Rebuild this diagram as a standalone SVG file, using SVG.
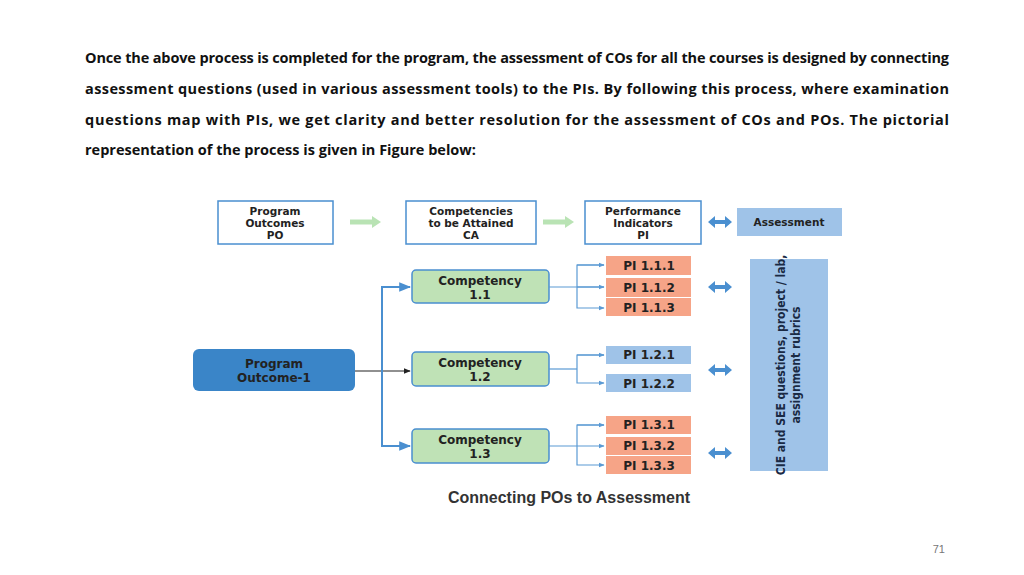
<svg xmlns="http://www.w3.org/2000/svg" width="1024" height="575" viewBox="0 0 1024 575">
<defs>
<marker id="ab" viewBox="0 0 10 10" refX="9" refY="5" markerWidth="6" markerHeight="6" orient="auto"><path d="M0,1L10,5L0,9z" fill="#4a8fd0"/></marker>
<marker id="ak" viewBox="0 0 10 10" refX="9" refY="5" markerWidth="6" markerHeight="6" orient="auto"><path d="M0,1L10,5L0,9z" fill="#222"/></marker>
<marker id="as" viewBox="0 0 10 10" refX="9" refY="5" markerWidth="5" markerHeight="5" orient="auto"><path d="M0,1L10,5L0,9z" fill="#5a9ad4"/></marker>
</defs>
<style>
.p{font-family:"Open Sans","Liberation Sans",sans-serif;font-weight:bold;font-size:14.5px;fill:#111}
.t{font-family:"DejaVu Sans",sans-serif;font-weight:bold;font-size:10.5px;fill:#222;text-anchor:middle}
.c{font-family:"DejaVu Sans",sans-serif;font-weight:bold;font-size:12px;fill:#222;text-anchor:middle}
.wb{fill:#fff;stroke:#4a8fd0;stroke-width:1.5}
.gb{fill:#bfe2b6;stroke:#4a8fd0;stroke-width:1.5}
.or{fill:#f6a487}
.bl{fill:#9fc3e8}
.ln{stroke:#5a9ad4;stroke-width:1.2;fill:none}
.ga{stroke:#b9e3b4;stroke-width:5;fill:none}
.da{fill:#4a8fd0}
</style>
<rect width="1024" height="575" fill="#fff"/>
<g id="para">
<text class="p" x="85" y="63" textLength="864" lengthAdjust="spacing">Once the above process is completed for the program, the assessment of COs for all the courses is designed  by connecting</text>
<text class="p" x="85" y="94" textLength="864" lengthAdjust="spacing">assessment questions (used in various assessment tools) to the PIs. By following this process,  where examination</text>
<text class="p" x="85" y="125" textLength="864" lengthAdjust="spacing">questions map with PIs, we get clarity and better resolution for the assessment of COs  and POs. The pictorial</text>
<text class="p" x="85" y="155">representation of the process is given in Figure below:</text>
</g>
<g id="n-po"><rect class="wb" x="218" y="201" width="115" height="43"/><text class="t" x="275" y="215">Program</text><text class="t" x="275" y="227">Outcomes</text><text class="t" x="275" y="239">PO</text></g>
<g id="n-ca"><rect class="wb" x="406" y="201" width="130" height="43"/><text class="t" x="471" y="215">Competencies</text><text class="t" x="471" y="227">to be Attained</text><text class="t" x="471" y="239">CA</text></g>
<g id="n-pi"><rect class="wb" x="585" y="201" width="116" height="43"/><text class="t" x="643" y="215">Performance</text><text class="t" x="643" y="227">Indicators</text><text class="t" x="643" y="239">PI</text></g>
<g id="n-as"><rect class="bl" x="737" y="208" width="105" height="28"/><text class="t" x="789" y="226">Assessment</text></g>
<g id="n-po1"><rect x="193" y="349" width="162" height="42" rx="6" fill="#3a85c8"/><text class="c" x="274" y="368" fill="#1a2a44">Program</text><text class="c" x="274" y="382">Outcome-1</text></g>
<g id="n-c11"><rect class="gb" x="412" y="270" width="137" height="33" rx="4"/><text class="c" x="480" y="285">Competency</text><text class="c" x="480" y="299">1.1</text></g>
<g id="n-c12"><rect class="gb" x="412" y="352" width="137" height="34" rx="4"/><text class="c" x="480" y="367">Competency</text><text class="c" x="480" y="381">1.2</text></g>
<g id="n-c13"><rect class="gb" x="412" y="429" width="137" height="34" rx="4"/><text class="c" x="480" y="444">Competency</text><text class="c" x="480" y="458">1.3</text></g>
<g id="n-pi111"><rect class="or" x="606" y="256" width="85" height="19"/><text class="c" x="649" y="270">PI 1.1.1</text></g>
<g id="n-pi112"><rect class="or" x="606" y="278" width="85" height="19"/><text class="c" x="649" y="292">PI 1.1.2</text></g>
<g id="n-pi113"><rect class="or" x="606" y="298" width="85" height="18"/><text class="c" x="649" y="312">PI 1.1.3</text></g>
<g id="n-pi121"><rect class="bl" x="606" y="346" width="85" height="18"/><text class="c" x="649" y="359">PI 1.2.1</text></g>
<g id="n-pi122"><rect class="bl" x="606" y="374" width="85" height="18"/><text class="c" x="649" y="388">PI 1.2.2</text></g>
<g id="n-pi131"><rect class="or" x="606" y="416" width="85" height="18"/><text class="c" x="649" y="429">PI 1.3.1</text></g>
<g id="n-pi132"><rect class="or" x="606" y="437" width="85" height="18"/><text class="c" x="649" y="450">PI 1.3.2</text></g>
<g id="n-pi133"><rect class="or" x="606" y="456" width="85" height="18"/><text class="c" x="649" y="470">PI 1.3.3</text></g>
<g id="n-tools"><rect class="bl" x="750" y="259" width="78" height="212"/>
<text font-family="'Liberation Sans Narrow','DejaVu Sans Condensed',sans-serif" font-size="12" font-weight="bold" fill="#1a2a44" text-anchor="middle" transform="translate(789 365) rotate(-90)" style="font-stretch:condensed"><tspan x="0" y="-4">CIE and SEE questions, project / lab,</tspan><tspan x="0" y="11">assignment rubrics</tspan></text></g>
<g id="connectors">
<path class="ga" d="M350 222H372"/><path d="M372 216L381 222L372 228z" fill="#b9e3b4"/>
<path class="ga" d="M543 222H565"/><path d="M565 216L574 222L565 228z" fill="#b9e3b4"/>
<path class="da" d="M708 222l7-6v4h10v-4l7 6-7 6v-4h-10v4z"/>
<path class="da" d="M708 287l7-6v4h10v-4l7 6-7 6v-4h-10v4z"/>
<path class="da" d="M708 370l7-6v4h10v-4l7 6-7 6v-4h-10v4z"/>
<path class="da" d="M708 453l7-6v4h10v-4l7 6-7 6v-4h-10v4z"/>
<path d="M355 371H410" stroke="#222" stroke-width="1.2" marker-end="url(#ak)"/>
<path d="M410 287H382V446H410" stroke="#4a8fd0" stroke-width="2" fill="none" marker-end="url(#ab)"/>
<path d="M382 287H410" stroke="#4a8fd0" stroke-width="2" marker-end="url(#ab)"/>
<path class="ln" d="M549 287H604"/><path class="ln" d="M604 265H577V308H604" marker-end="url(#as)"/><path class="ln" d="M577 265H604" marker-end="url(#as)"/><path class="ln" d="M577 287H604" marker-end="url(#as)"/>
<path class="ln" d="M549 369H577"/><path class="ln" d="M604 355H577V383H604" marker-end="url(#as)"/><path class="ln" d="M577 355H604" marker-end="url(#as)"/>
<path class="ln" d="M549 446H604" marker-end="url(#as)"/><path class="ln" d="M604 425H577V465H604" marker-end="url(#as)"/><path class="ln" d="M577 425H604" marker-end="url(#as)"/>
</g>
<text x="569" y="503" font-family="'Liberation Sans',sans-serif" font-weight="bold" font-size="16" fill="#333" text-anchor="middle">Connecting POs to Assessment</text>
<text x="945" y="553" font-family="'Liberation Sans',sans-serif" font-size="11" fill="#777" text-anchor="end">71</text>
</svg>
